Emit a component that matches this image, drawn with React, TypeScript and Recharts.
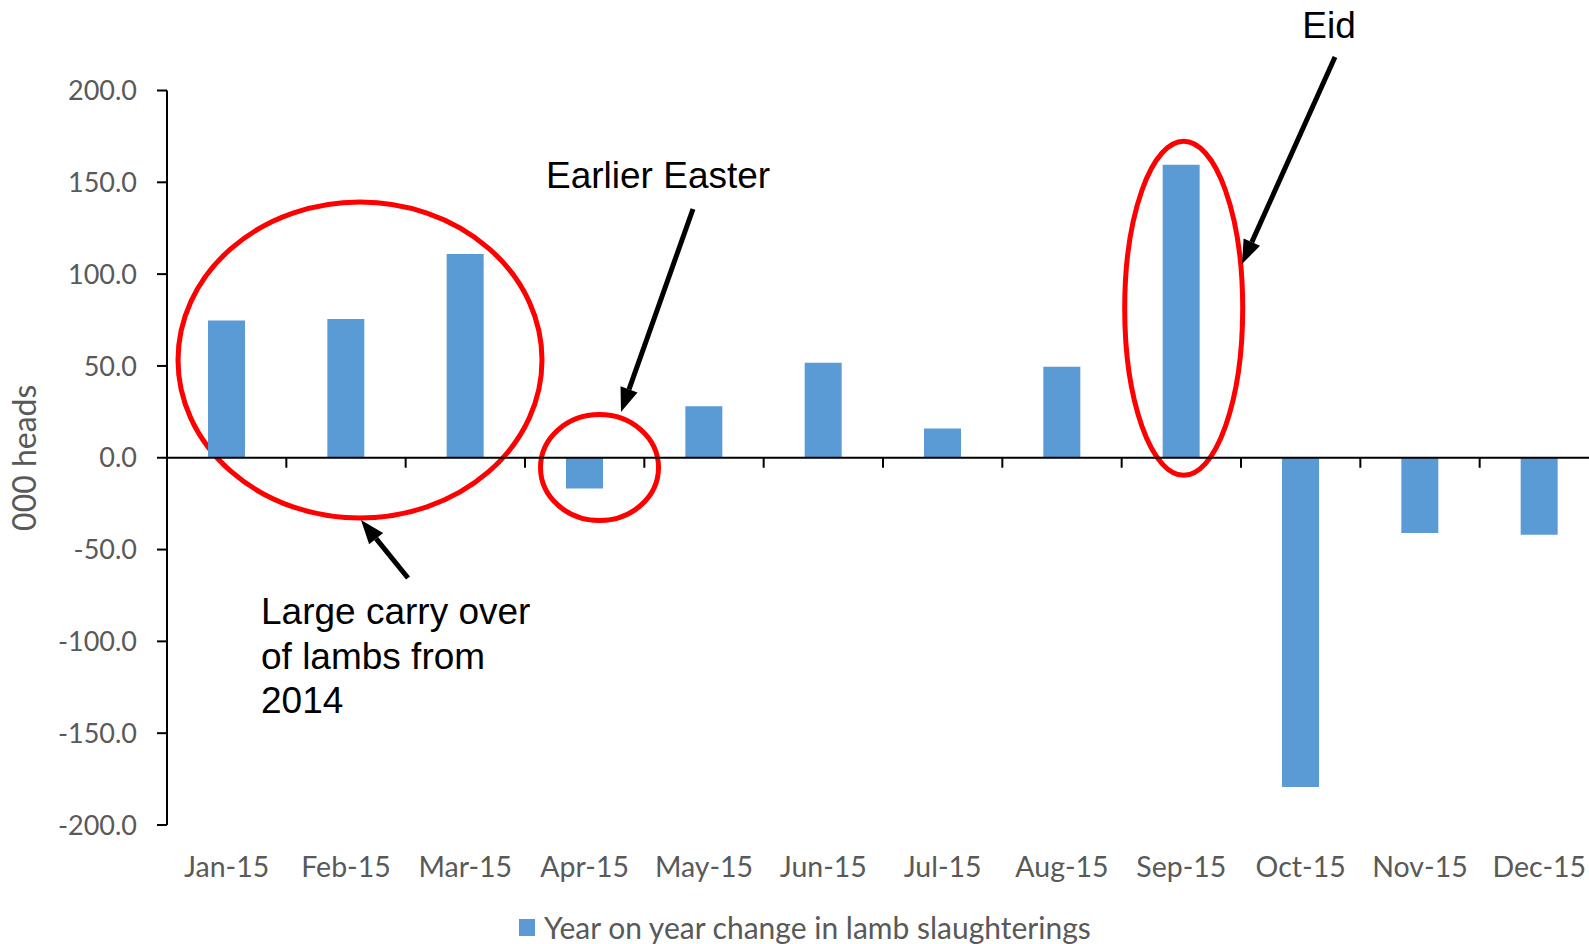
import React from 'react';
import { BarChart, Bar, XAxis, YAxis, ReferenceLine, Legend, Customized } from 'recharts';

const months = ['Jan-15', 'Feb-15', 'Mar-15', 'Apr-15', 'May-15', 'Jun-15', 'Jul-15', 'Aug-15', 'Sep-15', 'Oct-15', 'Nov-15', 'Dec-15'];
const yoyChange = [74.7, 75.6, 110.9, -16.7, 28.0, 51.8, 15.9, 49.6, 159.5, -179.3, -41.0, -42.0];
const yTicks = [-200, -150, -100, -50, 0, 50, 100, 150, 200];
const seriesName = 'Year on year change in lamb slaughterings';

const data = months.map((month, i) => ({ month, change: yoyChange[i] }));

const BAR_COLOR = '#5B9BD5';
const TEXT_GRAY = '#595959';
const LABEL_FONT = 'Lato, "Open Sans", sans-serif';
const NOTE_FONT = '"Liberation Sans", Arial, sans-serif';

// zero line with Excel-style tick marks between categories
const ZeroLine = (props: any) => {
  const { x1, y1, x2 } = props;
  const step = (x2 - x1) / months.length;
  return (
    <g>
      <line x1={x1} y1={y1} x2={x2} y2={y1} stroke="#000" strokeWidth={2} />
      {months.map((_, i) => (
        <line key={i} x1={x1 + step * (i + 1)} y1={y1} x2={x1 + step * (i + 1)} y2={y1 + 10} stroke="#000" strokeWidth={2} />
      ))}
    </g>
  );
};

const MonthTick = (props: any) => {
  const { x, y, payload } = props;
  return (
    <text x={x} y={y + 50} textAnchor="middle" fill={TEXT_GRAY} fontSize={28.5} fontFamily={LABEL_FONT}>
      {payload.value}
    </text>
  );
};

const Arrow = ({ x1, y1, x2, y2 }: { x1: number; y1: number; x2: number; y2: number }) => {
  const ang = Math.atan2(y2 - y1, x2 - x1);
  const len = 24;
  const half = 9;
  const bx = x2 - len * Math.cos(ang);
  const by = y2 - len * Math.sin(ang);
  const px = -Math.sin(ang) * half;
  const py = Math.cos(ang) * half;
  return (
    <g>
      <line x1={x1} y1={y1} x2={bx} y2={by} stroke="#000" strokeWidth={5} />
      <polygon points={`${x2},${y2} ${bx + px},${by + py} ${bx - px},${by - py}`} fill="#000" />
    </g>
  );
};

const Annotations = () => (
  <g>
    <ellipse cx={360} cy={360} rx={182} ry={158} fill="none" stroke="#FF0000" strokeWidth={5} />
    <ellipse cx={599.5} cy={467.5} rx={59} ry={53} fill="none" stroke="#FF0000" strokeWidth={5} />
    <ellipse cx={1183.7} cy={308.3} rx={59} ry={167} fill="none" stroke="#FF0000" strokeWidth={5} />
    <Arrow x1={1335} y1={57} x2={1242} y2={264} />
    <Arrow x1={693} y1={209} x2={621} y2={412} />
    <Arrow x1={408} y1={578} x2={361} y2={520} />
    <g fontFamily={NOTE_FONT} fontSize={37} fill="#000">
      <text x={1329} y={38} textAnchor="middle">Eid</text>
      <text x={546} y={188}>Earlier Easter</text>
      <text x={261} y={624}>Large carry over</text>
      <text x={261} y={669}>of lambs from</text>
      <text x={261} y={713}>2014</text>
    </g>
  </g>
);

const LegendContent = () => (
  <div style={{ display: 'flex', alignItems: 'center', whiteSpace: 'nowrap' }}>
    <span style={{ width: 16, height: 17, background: BAR_COLOR, display: 'inline-block', marginRight: 9 }} />
    <span style={{ fontFamily: LABEL_FONT, fontSize: 30, color: TEXT_GRAY, lineHeight: '34px' }}>{seriesName}</span>
  </div>
);

export default function App() {
  return (
    <div style={{ position: 'absolute', left: 0, top: 0, width: 1589, height: 944, overflow: 'hidden', background: '#fff' }}>
      <BarChart width={1599} height={944} data={data} margin={{ top: 90.5, right: 0, bottom: 60, left: 0 }}>
        <XAxis dataKey="month" axisLine={false} tickLine={false} tickSize={0} height={59} tick={<MonthTick />} interval={0} />
        <YAxis
          type="number"
          domain={[-200, 200]}
          ticks={yTicks}
          tickFormatter={(v: number) => v.toFixed(1)}
          width={167}
          axisLine={{ stroke: '#000', strokeWidth: 2 }}
          tickLine={{ stroke: '#000', strokeWidth: 2 }}
          tickSize={10}
          tickMargin={20}
          tick={{ fill: TEXT_GRAY, fontSize: 27, fontFamily: LABEL_FONT }}
          label={{ value: '000 heads', angle: -90, position: 'insideLeft', offset: 25, fill: TEXT_GRAY, fontSize: 32, fontFamily: LABEL_FONT, style: { textAnchor: 'middle' } }}
        />
        <Bar dataKey="change" name={seriesName} fill={BAR_COLOR} barSize={37} isAnimationActive={false} />
        <ReferenceLine y={0} shape={ZeroLine} />
        <Legend
          layout="horizontal"
          verticalAlign="middle"
          align="center"
          content={<LegendContent />}
          wrapperStyle={{ top: 910, left: 519, width: 800, height: 34 }}
        />
        <Customized component={Annotations} />
      </BarChart>
    </div>
  );
}
